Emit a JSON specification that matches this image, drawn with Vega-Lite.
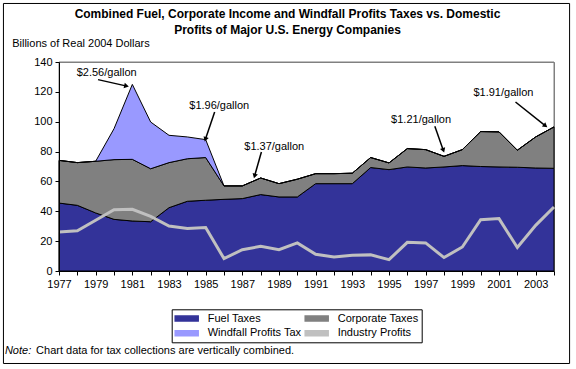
{
  "$schema": "https://vega.github.io/schema/vega-lite/v6.json",
  "width": 495,
  "height": 209,
  "autosize": {"type": "none"},
  "padding": {"left": 59, "top": 62, "right": 22, "bottom": 98},
  "background": "white",
  "title": {
    "text": ["Combined Fuel, Corporate Income and Windfall Profits Taxes vs. Domestic", "Profits of Major U.S. Energy Companies"],
    "font": "Liberation Sans",
    "fontSize": 12,
    "fontWeight": "bold",
    "color": "black",
    "anchor": "middle",
    "frame": "group",
    "dx": -19,
    "offset": -34,
    "lineHeight": 16
  },
  "config": {
    "view": {"stroke": "#808080", "strokeWidth": 1},
    "axis": {"labelFont": "Liberation Sans", "labelFontSize": 11, "labelColor": "black", "domainColor": "black", "tickColor": "black", "titleFont": "Liberation Sans", "titleColor": "black", "labelOverlap": false, "grid": false, "tickCount": 40}
  },
  "datasets": {
    "main": [
      {"year": 1977, "Fuel Taxes": 45.5, "Corporate Taxes": 28.6, "Windfall Profits Tax": 0, "Industry Profits": 26.1},
      {"year": 1978, "Fuel Taxes": 44.0, "Corporate Taxes": 28.6, "Windfall Profits Tax": 0, "Industry Profits": 27.0},
      {"year": 1979, "Fuel Taxes": 38.9, "Corporate Taxes": 34.6, "Windfall Profits Tax": 0, "Industry Profits": 34.0},
      {"year": 1980, "Fuel Taxes": 34.6, "Corporate Taxes": 40.0, "Windfall Profits Tax": 20.7, "Industry Profits": 41.1},
      {"year": 1981, "Fuel Taxes": 33.5, "Corporate Taxes": 41.3, "Windfall Profits Tax": 50.2, "Industry Profits": 41.3},
      {"year": 1982, "Fuel Taxes": 33.0, "Corporate Taxes": 35.5, "Windfall Profits Tax": 31.3, "Industry Profits": 36.6},
      {"year": 1983, "Fuel Taxes": 42.4, "Corporate Taxes": 30.2, "Windfall Profits Tax": 18.3, "Industry Profits": 30.1},
      {"year": 1984, "Fuel Taxes": 46.7, "Corporate Taxes": 28.5, "Windfall Profits Tax": 14.6, "Industry Profits": 28.4},
      {"year": 1985, "Fuel Taxes": 47.4, "Corporate Taxes": 28.6, "Windfall Profits Tax": 12.0, "Industry Profits": 29.1},
      {"year": 1986, "Fuel Taxes": 48.0, "Corporate Taxes": 9.0, "Windfall Profits Tax": 0, "Industry Profits": 8.3},
      {"year": 1987, "Fuel Taxes": 48.5, "Corporate Taxes": 8.5, "Windfall Profits Tax": 0, "Industry Profits": 14.3},
      {"year": 1988, "Fuel Taxes": 51.2, "Corporate Taxes": 11.1, "Windfall Profits Tax": 0, "Industry Profits": 16.5},
      {"year": 1989, "Fuel Taxes": 49.6, "Corporate Taxes": 8.9, "Windfall Profits Tax": 0, "Industry Profits": 14.3},
      {"year": 1990, "Fuel Taxes": 49.6, "Corporate Taxes": 11.9, "Windfall Profits Tax": 0, "Industry Profits": 18.8},
      {"year": 1991, "Fuel Taxes": 58.5, "Corporate Taxes": 6.7, "Windfall Profits Tax": 0, "Industry Profits": 11.2},
      {"year": 1992, "Fuel Taxes": 58.5, "Corporate Taxes": 6.7, "Windfall Profits Tax": 0, "Industry Profits": 9.4},
      {"year": 1993, "Fuel Taxes": 58.5, "Corporate Taxes": 7.0, "Windfall Profits Tax": 0, "Industry Profits": 10.5},
      {"year": 1994, "Fuel Taxes": 69.3, "Corporate Taxes": 6.7, "Windfall Profits Tax": 0, "Industry Profits": 10.8},
      {"year": 1995, "Fuel Taxes": 67.9, "Corporate Taxes": 4.5, "Windfall Profits Tax": 0, "Industry Profits": 7.6},
      {"year": 1996, "Fuel Taxes": 69.7, "Corporate Taxes": 12.3, "Windfall Profits Tax": 0, "Industry Profits": 19.2},
      {"year": 1997, "Fuel Taxes": 69.0, "Corporate Taxes": 12.3, "Windfall Profits Tax": 0, "Industry Profits": 18.8},
      {"year": 1998, "Fuel Taxes": 69.7, "Corporate Taxes": 7.1, "Windfall Profits Tax": 0, "Industry Profits": 9.0},
      {"year": 1999, "Fuel Taxes": 70.6, "Corporate Taxes": 10.7, "Windfall Profits Tax": 0, "Industry Profits": 16.1},
      {"year": 2000, "Fuel Taxes": 70.0, "Corporate Taxes": 23.4, "Windfall Profits Tax": 0, "Industry Profits": 34.4},
      {"year": 2001, "Fuel Taxes": 69.7, "Corporate Taxes": 23.5, "Windfall Profits Tax": 0, "Industry Profits": 35.1},
      {"year": 2002, "Fuel Taxes": 69.5, "Corporate Taxes": 11.4, "Windfall Profits Tax": 0, "Industry Profits": 15.7},
      {"year": 2003, "Fuel Taxes": 69.0, "Corporate Taxes": 20.8, "Windfall Profits Tax": 0, "Industry Profits": 30.6},
      {"year": 2004, "Fuel Taxes": 68.8, "Corporate Taxes": 27.7, "Windfall Profits Tax": 0, "Industry Profits": 42.9}
    ],
    "labels": [
      {"year": 1979.6, "value": 132.4, "label": "$2.56/gallon"},
      {"year": 1985.74, "value": 110.3, "label": "$1.96/gallon"},
      {"year": 1988.74, "value": 83.1, "label": "$1.37/gallon"},
      {"year": 1996.75, "value": 101.4, "label": "$1.21/gallon"},
      {"year": 2001.24, "value": 119.3, "label": "$1.91/gallon"}
    ],
    "arrows": [
      {"x": 1979.13, "y": 128.2, "x2": 1980.64, "y2": 124.0, "angle": 103},
      {"x": 1985.49, "y": 106.5, "x2": 1985.0, "y2": 88.7, "angle": 199},
      {"x": 1988.04, "y": 79.7, "x2": 1987.68, "y2": 64.1, "angle": 196},
      {"x": 1997.5, "y": 96.9, "x2": 1997.95, "y2": 81.3, "angle": 160},
      {"x": 2001.9, "y": 113.2, "x2": 2003.5, "y2": 97.6, "angle": 128}
    ]
  },
  "layer": [
    {
      "data": {"values": [{"t": "plot border"}]},
      "mark": {"type": "rect", "fill": null, "fillOpacity": 0, "stroke": "#808080", "strokeWidth": 1},
      "encoding": {
        "x": {"datum": 1977, "type": "quantitative"},
        "x2": {"datum": 2004},
        "y": {"datum": 0, "type": "quantitative"},
        "y2": {"datum": 140}
      }
    },
    {
      "data": {"name": "main"},
      "transform": [
        {"fold": ["Fuel Taxes", "Corporate Taxes", "Windfall Profits Tax"], "as": ["series", "value"]},
        {"calculate": "indexof(['Fuel Taxes','Corporate Taxes','Windfall Profits Tax'], datum.series)", "as": "ord"}
      ],
      "mark": {"type": "area", "stroke": "black", "strokeWidth": 1, "opacity": 1},
      "encoding": {
        "x": {
          "field": "year", "type": "quantitative",
          "scale": {"domain": [1977, 2004], "nice": false, "zero": false},
          "axis": {
            "title": null, "values": [1977,1978,1979,1980,1981,1982,1983,1984,1985,1986,1987,1988,1989,1990,1991,1992,1993,1994,1995,1996,1997,1998,1999,2000,2001,2002,2003,2004],
            "tickCount": 40,
            "format": "d",
            "labelExpr": "(datum.value % 2 == 1 && datum.value < 2004) ? datum.label : ''",
            "labelFlush": false, "labelOverlap": false, "grid": false,
            "tickSize": 4, "labelPadding": 3, "labelDx": 2, "zindex": 1
          }
        },
        "y": {
          "field": "value", "type": "quantitative", "stack": "zero",
          "scale": {"domain": [0, 140], "nice": false},
          "axis": {
            "title": "Billions of Real 2004 Dollars", "titleAngle": 0, "titleAlign": "left", "titleBaseline": "middle",
            "titleX": -47.3, "titleY": -18.7, "titleFontSize": 11, "titleFontWeight": "normal",
            "values": [0, 20, 40, 60, 80, 100, 120, 140], "tickCount": 40, "labelOverlap": false, "grid": false, "tickSize": 4, "labelPadding": 3, "zindex": 1
          }
        },
        "order": {"field": "ord", "type": "quantitative"},
        "color": {
          "field": "series", "type": "nominal",
          "scale": {"domain": ["Fuel Taxes", "Windfall Profits Tax", "Corporate Taxes", "Industry Profits"], "range": ["#333399", "#9999FF", "#808080", "#C0C0C0"]},
          "legend": {
            "orient": "none", "legendX": 112.7, "legendY": 247.3, "columns": 2, "title": null,
            "strokeColor": "black", "padding": 3,
            "symbolType": "M-2.3,-0.5H2.3V0.5H-2.3Z", "symbolSize": 100,
            "symbolOffset": 6, "labelOffset": 15,
            "labelFont": "Liberation Sans", "labelFontSize": 11, "labelColor": "black",
            "columnPadding": 0, "rowPadding": 3,
            "encode": {
              "symbols": {
                "update": {
                  "fill": {"scale": "color", "field": "value"},
                  "stroke": {"signal": "datum.value === 'Industry Profits' ? '#C0C0C0' : 'black'"},
                  "strokeWidth": {"value": 1},
                  "opacity": {"value": 1}
                }
              }
            }
          }
        }
      }
    },
    {
      "data": {"name": "main"},
      "transform": [{"fold": ["Industry Profits"], "as": ["series", "value"]}],
      "mark": {"type": "line", "strokeWidth": 3},
      "encoding": {
        "x": {"field": "year", "type": "quantitative"},
        "y": {"field": "value", "type": "quantitative"},
        "color": {"field": "series", "type": "nominal"}
      }
    },
    {
      "data": {"name": "labels"},
      "mark": {"type": "text", "font": "Liberation Sans", "fontSize": 11, "color": "black", "align": "center", "baseline": "middle"},
      "encoding": {
        "x": {"field": "year", "type": "quantitative"},
        "y": {"field": "value", "type": "quantitative"},
        "text": {"field": "label"}
      }
    },
    {
      "data": {"name": "arrows"},
      "mark": {"type": "rule", "color": "black", "strokeWidth": 1.5},
      "encoding": {
        "x": {"field": "x", "type": "quantitative"},
        "y": {"field": "y", "type": "quantitative"},
        "x2": {"field": "x2"},
        "y2": {"field": "y2"}
      }
    },
    {
      "data": {"name": "arrows"},
      "mark": {"type": "point", "shape": "triangle", "filled": true, "color": "black", "size": 30, "opacity": 1},
      "encoding": {
        "x": {"field": "x2", "type": "quantitative"},
        "y": {"field": "y2", "type": "quantitative"},
        "angle": {"field": "angle", "type": "quantitative", "scale": null}
      }
    },
    {
      "data": {"values": [{"t": "Note:"}]},
      "mark": {"type": "text", "font": "Liberation Sans", "fontSize": 11, "fontStyle": "italic", "color": "black", "align": "left", "baseline": "middle"},
      "encoding": {
        "x": {"datum": 1974.05, "type": "quantitative"},
        "y": {"datum": -53.9, "type": "quantitative"},
        "text": {"field": "t"}
      }
    },
    {
      "data": {"values": [{"t": "Chart data for tax collections are vertically combined."}]},
      "mark": {"type": "text", "font": "Liberation Sans", "fontSize": 11, "color": "black", "align": "left", "baseline": "middle"},
      "encoding": {
        "x": {"datum": 1975.75, "type": "quantitative"},
        "y": {"datum": -53.9, "type": "quantitative"},
        "text": {"field": "t"}
      }
    },
    {
      "data": {"values": [{"t": "frame"}]},
      "mark": {"type": "rect", "fill": null, "fillOpacity": 0, "stroke": "black", "strokeWidth": 1},
      "encoding": {
        "x": {"datum": 1973.97, "type": "quantitative"},
        "x2": {"datum": 2004.85},
        "y": {"datum": 179.2, "type": "quantitative"},
        "y2": {"datum": -61.96}
      }
    }
  ]
}
